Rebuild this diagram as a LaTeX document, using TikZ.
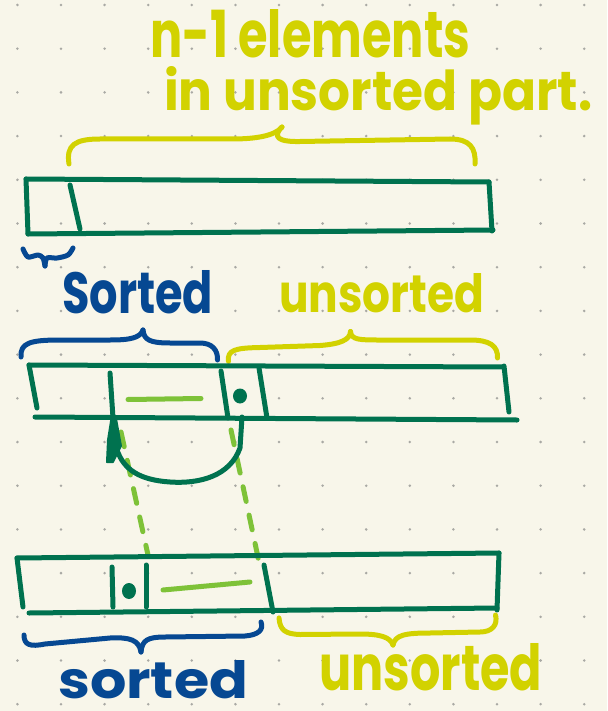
\documentclass[tikz,border=0pt]{standalone}
\usepackage{fontspec}
\setmainfont{Poppins}
\usetikzlibrary{arrows.meta}
\definecolor{paper}{HTML}{F8F6EA}
\definecolor{dotgray}{HTML}{A9A9A4}
\definecolor{dkgreen}{HTML}{00724F}
\definecolor{ylw}{HTML}{D2D200}
\definecolor{blu}{HTML}{064892}
\definecolor{ltgreen}{HTML}{7EC238}
\tikzset{
  pen/.style={line width=5pt, line cap=round, line join=round},
  arr/.style={pen, draw=dkgreen},
  ybrace/.style={pen, draw=ylw},
  bbrace/.style={pen, draw=blu},
  lgmark/.style={pen, draw=ltgreen},
  guide/.style={pen, draw=ltgreen, dash pattern=on 15pt off 14pt},
  hand/.style={inner sep=0pt, anchor=base west, font=\bfseries},
  dotm/.style={fill=dkgreen},
  headfill/.style={fill=dkgreen, draw=dkgreen, line width=2pt, line join=round}
}
\begin{document}
\begin{tikzpicture}[x=1pt,y=-1pt]
\useasboundingbox (0,0) rectangle (607,711);
\fill[paper] (0,0) rectangle (607,711);
% dot grid
\foreach \i in {0,...,13}{
  \foreach \j in {0,...,16}{
    \fill[dotgray] ({17.4+43.6*\i},{5+43.7*\j}) circle (1.4pt);
  }
}
% ---------- top text ----------
\node[hand, text=ylw] (t1) at (150,58) {\resizebox{320pt}{48pt}{n-1 elements}};
\node[hand, text=ylw] (t2) at (164,111) {\resizebox{428pt}{44pt}{in unsorted part.}};
% top brace
\draw[ybrace] (69,164) .. controls (66,145) and (75,139) .. (100,139) -- (232,139) .. controls (255,139) and (275,136) .. (282,127);
\draw[ybrace] (282,127) .. controls (272,137) and (278,142) .. (300,141.5) -- (450,139) .. controls (470,139) and (476,148) .. (475,164);
% top array
\draw[arr] (26,179) -- (489,182);
\draw[arr] (26,179) -- (28,234);
\draw[arr] (28,234) -- (493,230);
\draw[arr] (489,182) -- (492,231);
\draw[arr] (70,185) -- (80,229);
% small sorted brace
\draw[bbrace] plot[smooth] coordinates {(23,249) (28,257) (38,255) (43,258) (45,266)};
\draw[bbrace] plot[smooth] coordinates {(45,266) (47,258) (57,258) (68,255) (73,248)};
% ---------- middle ----------
\node[hand, text=blu] (s1) at (62,313) {\resizebox{151pt}{43pt}{Sorted}};
\node[hand, text=ylw] (u1) at (279,312) {\resizebox{205pt}{39pt}{unsorted}};
\draw[bbrace] (21,357) .. controls (20,343) and (30,340) .. (60,340) -- (110,340) .. controls (130,340) and (140,338) .. (143,330);
\draw[bbrace] (143,330) .. controls (144,340) and (150,343) .. (170,343) -- (200,343) .. controls (212,343) and (218,350) .. (217.5,360);
\draw[ybrace] (228.5,361.5) .. controls (227,350) and (235,348) .. (260,347.5) -- (320,345.5) .. controls (340,344) and (350,340) .. (350.5,331.5);
\draw[ybrace] (350.5,331.5) .. controls (351,340) and (360,340) .. (380,340) -- (470,340) .. controls (490,340) and (498,346) .. (497.5,358);
% middle array
\draw[arr] (29,365) -- (503,367);
\draw[arr] (29,365) -- (37,408);
\draw[arr] (35,417) -- (517,420);
\draw[arr] (504,366) -- (509,412);
\draw[arr] (110,373) -- (113,418);
\draw[arr] (221,371) -- (228,418);
\draw[arr] (259,368) -- (267,418);
\fill[dotm] (240,396) ellipse (7pt and 7.5pt);
\draw[lgmark] (128,399.5) -- (201,398.5);
% guides (light green dashed)
\draw[guide] (121,432) -- (148,555);
\draw[guide] (231,430) -- (259,562);
% move arrow
\coordinate (from) at (242,417);
\coordinate (to) at (112,415);
\draw[arr] (from) -- (240,448) .. controls (230,476) and (200,484) .. (170,482) .. controls (140,480) and (124,470) .. (117,450);
\filldraw[headfill] (to) -- (115.5,416) -- (121,446) -- (113,462) -- (107,462) -- (108,440) -- cycle;
% ---------- bottom array ----------
\draw[arr] (17,558) -- (499,553);
\draw[arr] (17,558) -- (23,607);
\draw[arr] (29,613) -- (497,608);
\draw[arr] (499,553) -- (497,610);
\draw[arr] (112,567) -- (113,607);
\draw[arr] (146,565) -- (146,607);
\draw[arr] (264,565) -- (273,612);
\fill[dotm] (129,591) ellipse (7pt and 8pt);
\draw[lgmark] (163,590) -- (250,582);
% bottom braces
\draw[bbrace] (24,635) .. controls (24,645) and (30,647) .. (45,644) -- (110,638) .. controls (130,637) and (139,640) .. (141,652);
\draw[bbrace] (141,652) .. controls (142,640) and (148,637) .. (165,637) -- (245,636) .. controls (258,635) and (264,630) .. (261,622);
\draw[ybrace] (279,618) .. controls (280,630) and (285,634) .. (300,634.5) -- (360,634) .. controls (380,634) and (390,637) .. (393,645);
\draw[ybrace] (393,645) .. controls (395,635) and (405,633) .. (430,633) -- (480,632) .. controls (492,632) and (498,625) .. (495.5,615);
\node[hand, text=blu] (s2) at (58,698) {\resizebox{190pt}{38pt}{sorted}};
\node[hand, text=ylw] (u2) at (319,690) {\resizebox{223pt}{47pt}{unsorted}};
\end{tikzpicture}
\end{document}
